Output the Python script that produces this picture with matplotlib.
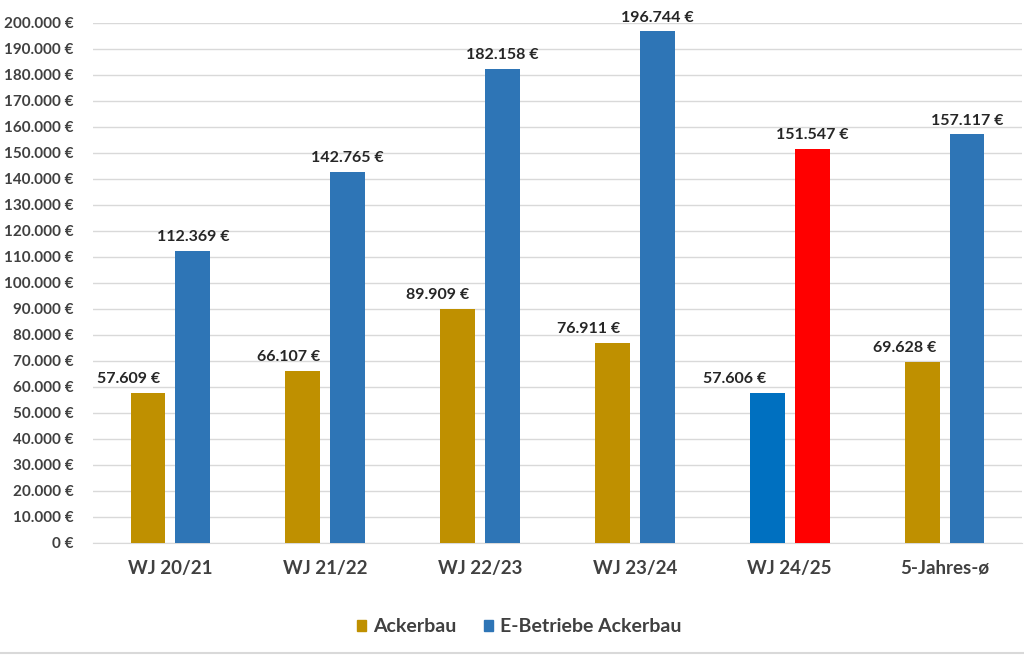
import numpy as np
import matplotlib.pyplot as plt
from matplotlib.patches import Patch
from matplotlib.ticker import FuncFormatter

# Daten
kategorien = ["WJ 20/21", "WJ 21/22", "WJ 22/23", "WJ 23/24", "WJ 24/25", "5-Jahres-ø"]
ackerbau = [57609, 66107, 89909, 76911, 57606, 69628]
e_betriebe = [112369, 142765, 182158, 196744, 151547, 157117]

gold = "#BF9000"
blau = "#2E75B6"
farben_acker = [gold, gold, gold, gold, "#0070C0", gold]
farben_e = [blau, blau, blau, blau, "#FF0000", blau]

# Ackerbau-Beschriftungen sind im Original nach links verschoben (Pixel)
verschiebung_acker = [-19, -14, -20, -24, -33, -18]

plt.rcParams['font.family'] = ['Lato', 'DejaVu Sans']
txt = "#404040"

def euro(v, pos=None):
    return f"{int(v):,}".replace(",", ".") + " €"

fig = plt.figure(figsize=(10.24, 6.56), dpi=100)
ax = fig.add_axes([93 / 1024, 1 - 543 / 656, 929 / 1024, 520 / 656])

x = np.arange(len(kategorien))
w = 0.225
off = 0.145
b1 = ax.bar(x - off, ackerbau, w, color=farben_acker, zorder=3)
b2 = ax.bar(x + off, e_betriebe, w, color=farben_e, zorder=3)

for bars, vals, dx in ((b1, ackerbau, verschiebung_acker), (b2, e_betriebe, [0] * 6)):
    for b, v, d in zip(bars, vals, dx):
        ax.annotate(euro(v), (b.get_x() + b.get_width() / 2, v), xytext=(d * 0.72, 5),
                    textcoords="offset points", ha="center", va="bottom",
                    fontsize=11.5, fontweight="bold", color="#262626")

ax.set_xlim(-0.5, len(kategorien) - 0.5)
ax.set_ylim(0, 200000)
ax.set_yticks(np.arange(0, 200001, 10000))
ax.yaxis.set_major_formatter(FuncFormatter(euro))
ax.grid(axis="y", color="#D9D9D9", linewidth=1, zorder=0)
for s in ["top", "right", "left"]:
    ax.spines[s].set_visible(False)
ax.spines["bottom"].set_color("#D9D9D9")
ax.tick_params(axis="y", length=0, pad=14, labelsize=11, labelcolor=txt)
ax.tick_params(axis="x", length=0, pad=12, labelsize=13.5, labelcolor=txt)
ax.set_xticks(x)
ax.set_xticklabels(kategorien)
for lab in ax.get_xticklabels() + ax.get_yticklabels():
    lab.set_fontweight("bold")

handles = [Patch(color=gold, label="Ackerbau"), Patch(color=blau, label="E-Betriebe Ackerbau")]
leg = fig.legend(handles=handles, loc="center", bbox_to_anchor=(0.507, 1 - 627 / 656), ncol=2,
                 frameon=False, fontsize=14, handlelength=0.5, handleheight=0.5,
                 handletextpad=0.35, columnspacing=1.4)
for t in leg.get_texts():
    t.set_color(txt)
    t.set_fontweight("bold")

fig.add_artist(plt.Line2D([0, 1], [1 - 653 / 656] * 2, color="#D9D9D9", linewidth=1.5))

fig.savefig("out.png", dpi=100)
